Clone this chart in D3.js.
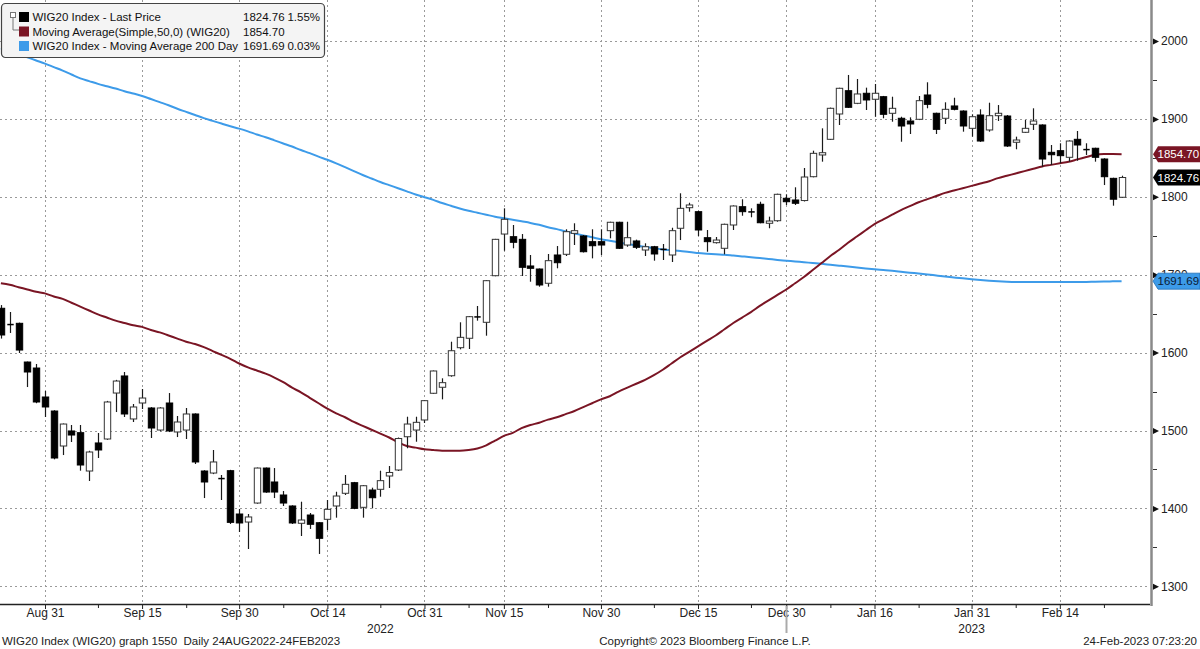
<!DOCTYPE html>
<html><head><meta charset="utf-8">
<script src="https://cdn.jsdelivr.net/npm/d3@7"></script>
<style>
body{margin:0;background:#fff;}
svg{display:block;font-family:"Liberation Sans",Arial,sans-serif;}
</style>
</head><body>
<svg id="c" width="1200" height="649"></svg>
<script>
// ---------- DATA ----------
const dates = [
"2022-08-24","2022-08-25","2022-08-26","2022-08-29","2022-08-30","2022-08-31",
"2022-09-01","2022-09-02","2022-09-05","2022-09-06","2022-09-07","2022-09-08","2022-09-09","2022-09-12","2022-09-13","2022-09-14","2022-09-15","2022-09-16","2022-09-19","2022-09-20","2022-09-21","2022-09-22","2022-09-23","2022-09-26","2022-09-27","2022-09-28","2022-09-29","2022-09-30",
"2022-10-03","2022-10-04","2022-10-05","2022-10-06","2022-10-07","2022-10-10","2022-10-11","2022-10-12","2022-10-13","2022-10-14","2022-10-17","2022-10-18","2022-10-19","2022-10-20","2022-10-21","2022-10-24","2022-10-25","2022-10-26","2022-10-27","2022-10-28","2022-10-31",
"2022-11-02","2022-11-03","2022-11-04","2022-11-07","2022-11-08","2022-11-09","2022-11-10","2022-11-14","2022-11-15","2022-11-16","2022-11-17","2022-11-18","2022-11-21","2022-11-22","2022-11-23","2022-11-24","2022-11-25","2022-11-28","2022-11-29","2022-11-30",
"2022-12-01","2022-12-02","2022-12-05","2022-12-06","2022-12-07","2022-12-08","2022-12-09","2022-12-12","2022-12-13","2022-12-14","2022-12-15","2022-12-16","2022-12-19","2022-12-20","2022-12-21","2022-12-22","2022-12-23","2022-12-27","2022-12-28","2022-12-29","2022-12-30",
"2023-01-02","2023-01-03","2023-01-04","2023-01-05","2023-01-09","2023-01-10","2023-01-11","2023-01-12","2023-01-13","2023-01-16","2023-01-17","2023-01-18","2023-01-19","2023-01-20","2023-01-23","2023-01-24","2023-01-25","2023-01-26","2023-01-27","2023-01-30","2023-01-31",
"2023-02-01","2023-02-02","2023-02-03","2023-02-06","2023-02-07","2023-02-08","2023-02-09","2023-02-10","2023-02-13","2023-02-14","2023-02-15","2023-02-16","2023-02-17","2023-02-20","2023-02-21","2023-02-22","2023-02-23"
];
const openP = [1656.9,1635.4,1637.6,1587.9,1580.2,1543,1525,1480.1,1499.4,1497.2,1448,1484,1489.1,1548.1,1570,1514.8,1535.3,1528.9,1500.6,1535.3,1498.1,1500.6,1521.2,1448,1445.4,1437.7,1448.4,1392.8,1382.5,1406.9,1451.8,1433.9,1417.2,1403.1,1380.9,1391.5,1381.6,1386,1403.1,1419.4,1433,1401.4,1423.6,1424.5,1441.6,1449.3,1492,1500.6,1513.5,1547.8,1555.5,1570.3,1606.3,1618.4,1645.3,1638.9,1698.7,1752.2,1748.8,1745.4,1711.2,1707.3,1689,1725.3,1726.2,1753.1,1749.7,1742.4,1742.4,1756.5,1767.3,1738.1,1743.3,1731.7,1735.9,1732,1725.3,1759.6,1786,1780.9,1747.5,1741.1,1733.9,1763.8,1787.3,1780.1,1790.4,1766,1769.3,1798.1,1795.9,1795.2,1825.8,1853.7,1873.8,1906.3,1936.2,1920,1932.9,1925.2,1928.5,1907.2,1900.8,1897.3,1899.5,1930.7,1907.2,1900.8,1916.6,1910.1,1887.9,1905,1885.8,1904.1,1903.7,1870,1882.8,1893.1,1892.2,1857.1,1859.2,1850.7,1873.8,1860.1,1862.3,1848.5,1823.7,1799.4];
const highP = [1661,1652.1,1638.5,1588.5,1585.4,1550.7,1526,1509,1507.1,1507.1,1474,1496.8,1538,1565,1575.1,1534,1553.3,1530,1530,1548.1,1518.6,1528.9,1522,1449,1475,1442.9,1449.5,1399.2,1392.8,1452.5,1452.5,1451.8,1422.3,1404,1408.6,1394.1,1382.5,1410.8,1421.4,1442.9,1434,1430,1426.6,1448.4,1454.4,1491,1517.7,1517.7,1539,1577,1567,1614,1638.9,1647,1659.8,1693,1746,1785.2,1763.8,1752.2,1725.3,1708,1726.6,1736.8,1758.3,1766,1751,1758.3,1758.3,1768,1768,1768,1745,1740.3,1737,1739.4,1760.3,1804.5,1792.4,1782,1757.4,1748.4,1765.5,1789,1796.8,1785.2,1793.7,1774.5,1804,1803.2,1812.2,1837,1859.2,1887.9,1914.5,1940,1956.4,1951.2,1940.1,1944.8,1929.5,1928.5,1902.8,1902,1929.4,1947,1908,1921.3,1927.2,1911,1905.9,1912.3,1920.8,1917.8,1905,1877.2,1898.6,1913.6,1893,1866.5,1868.7,1872.5,1884.5,1868.7,1863,1849.5,1824.5,1827.1];
const lowP = [1618,1625.2,1599.5,1555.8,1535,1517.3,1463,1468.5,1485.2,1448.4,1435.2,1464.7,1488,1523.7,1517.3,1510.9,1527.6,1490.4,1499,1498,1491.6,1489.1,1457,1413.3,1444,1410.8,1380,1369.7,1347.9,1406,1420,1413.3,1403.1,1380,1364.6,1373.6,1341.5,1372.3,1388.1,1417.2,1399,1388.1,1400.1,1415,1426.2,1448,1477.2,1485.6,1509.6,1547,1540,1569,1604.2,1604.6,1641,1621.7,1698,1730.8,1733.9,1698.3,1691,1684.6,1684.6,1708.2,1724,1738.1,1728.5,1721,1725.3,1746.7,1733,1735.9,1733,1724,1718,1718.9,1716.3,1744.5,1780.9,1749.7,1729.5,1740,1726.2,1757.4,1775.7,1773.7,1766,1759.6,1768,1789.5,1789.5,1794,1825,1845.1,1873,1892.2,1914,1919,1911.4,1902.8,1900.8,1896.4,1870.7,1880.6,1898.5,1913.6,1880.6,1893.5,1911,1883.6,1877.2,1870.5,1883.6,1897.3,1864,1861,1882,1885.8,1838.6,1840.8,1843,1845.1,1846.3,1853.7,1845.1,1815.1,1788.6,1798.5];
const closeP = [1622.6,1636,1603.3,1575.1,1536.6,1530.2,1464.7,1508.3,1494.2,1455.7,1472.4,1475,1536.6,1563.5,1521.2,1530.2,1541.7,1503.2,1528.9,1499.4,1510.9,1521.2,1459.6,1433.9,1459.6,1438.3,1382.1,1381.3,1389,1451.8,1421,1421,1406.9,1381.3,1385.1,1379.6,1361.6,1398.8,1415.9,1430.9,1400.1,1429.1,1413.7,1435.6,1446.1,1489.7,1508.3,1510.5,1538.3,1576.4,1561.4,1602.4,1619.6,1646.1,1645.8,1692.3,1745.4,1771.1,1741.6,1709.5,1708.2,1686.8,1718,1715.4,1755.2,1756.5,1729.5,1737.2,1738.1,1767.3,1733.9,1747.5,1735.2,1735.9,1726.6,1732.5,1756.5,1785.2,1789.5,1757.4,1742.4,1744.5,1764.7,1788.2,1780.9,1780.6,1766.7,1768.9,1803.2,1793.7,1791.7,1825.4,1855.8,1856.6,1913.6,1939.3,1914.9,1932,1924.3,1932.9,1905.9,1913.6,1890.9,1893.5,1923.4,1918.7,1886.6,1912.3,1912.3,1890.9,1902.8,1871.6,1904.1,1907.2,1865.2,1872.9,1887.9,1897.3,1848.5,1854,1852.8,1871.6,1866.5,1860.6,1850.7,1825.8,1796.9,1824.76];
const ma50 = [1689,1687,1684,1681,1678,1676,1672,1669,1664,1659,1654,1649,1645,1641,1638,1635,1633,1629,1626,1622,1618,1614,1611,1607,1602,1597,1592,1586,1581,1577,1573,1568,1562,1555,1549,1542,1535,1528,1522,1517,1511,1506,1501,1496,1491,1485,1480,1478,1476,1475,1474,1474,1474,1475,1477,1481,1487,1493,1497,1503,1507,1510,1514,1517,1521,1525,1530,1535,1540,1544,1550,1555,1560,1565,1571,1578,1586,1594,1601,1608,1615,1622,1630,1638,1645,1652,1660,1667,1674,1681,1689,1697,1706,1715,1724,1732,1741,1749,1757,1765,1771,1777,1783,1788,1793,1797,1801,1805,1808,1811,1814,1817,1820,1824,1827,1830,1833,1836,1839,1841,1843,1845,1848,1851,1854,1855,1855,1854.70];
const ma200 = [1990.5,1987,1983,1979,1975,1971,1966.5,1962,1957,1952,1948.5,1945,1942,1939,1935.5,1932.5,1929.5,1925.5,1921.5,1917.5,1913,1909,1905,1901,1897.5,1894,1890.5,1887.5,1884,1880,1876.5,1872.5,1868.5,1864.5,1860,1856,1851.5,1847.5,1843,1838,1833,1828,1823.5,1819,1815,1811,1807,1803,1799.5,1796,1792,1788.5,1785,1782,1779.5,1777,1774.5,1772.5,1770.5,1768.5,1766.5,1764,1761,1758.5,1755.5,1753,1750.5,1748,1745.5,1743.5,1741.5,1739.5,1737.5,1735.5,1734,1732.5,1731.5,1730.5,1729,1728,1727,1726.2,1725.5,1724.5,1723.5,1722.5,1721.3,1720.2,1719,1718,1717,1716,1715,1714,1712.8,1711.6,1710.4,1709.3,1708.1,1707,1706,1705,1703.8,1702.6,1701.5,1700.3,1699,1697.7,1696.5,1695.3,1694.2,1693.2,1692.3,1691.6,1691,1690.6,1690.5,1690.5,1690.5,1690.5,1690.5,1690.5,1690.5,1690.7,1690.9,1691.2,1691.5,1691.69];

const xLabelDates = ["2022-08-31","2022-09-15","2022-09-30","2022-10-14","2022-10-31","2022-11-15","2022-11-30","2022-12-15","2022-12-30","2023-01-16","2023-01-31","2023-02-14"];
const xLabels = ["Aug 31","Sep 15","Sep 30","Oct 14","Oct 31","Nov 15","Nov 30","Dec 15","Dec 30","Jan 16","Jan 31","Feb 14"];
const xMinorDates = ["2022-09-08","2022-09-22","2022-10-07","2022-10-24","2022-11-08","2022-11-22","2022-12-08","2022-12-23","2023-01-09","2023-01-23","2023-02-07","2023-02-21"];
const yearLabels = ["2022","2023"];
const yearLabelDates = ["2022-10-24","2023-01-31"];
const yearSplitDate = "2022-12-30";
const yTicks = [1300,1400,1500,1600,1700,1800,1900,2000];
const yMinor = [1350,1450,1550,1650,1750,1850,1950];

const legendNames = ["WIG20 Index - Last Price","Moving Average(Simple,50,0) (WIG20)","WIG20 Index - Moving Average 200 Day"];
const legendValues = ["1824.76","1854.70","1691.69"];
const legendChanges = ["1.55%","","0.03%"];
const seriesColors = ["#000000","#7a1524","#3d9be9"];

// ---------- CHART ----------
const svg = d3.select("#c");
const W = 1200, H = 649;
const plotRight = 1150, plotBottom = 604;
const idx = d => dates.indexOf(d);
const x = d3.scaleLinear().domain([-0.1, 130.22]).range([0, plotRight]);
const y = d3.scaleLinear().domain([1300, 2000]).range([586.3, 41]);

svg.append("rect").attr("width",W).attr("height",H).attr("fill","#fff");

const defs = svg.append("defs");
defs.append("clipPath").attr("id","plotclip").append("rect")
  .attr("x",0).attr("y",0).attr("width",plotRight).attr("height",plotBottom);

// grid
const grid = svg.append("g").attr("stroke","#9a9a9a").attr("stroke-width",1).attr("stroke-dasharray","2,3");
grid.selectAll(".hg").data(yTicks).join("line")
  .attr("x1",0).attr("x2",plotRight)
  .attr("y1",d=>Math.round(y(d))+0.5).attr("y2",d=>Math.round(y(d))+0.5);
grid.selectAll(".vg").data(xLabelDates).join("line")
  .attr("x1",d=>Math.round(x(idx(d)))+0.5).attr("x2",d=>Math.round(x(idx(d)))+0.5)
  .attr("y1",0).attr("y2",plotBottom);

const plot = svg.append("g").attr("clip-path","url(#plotclip)");

// moving average lines
const line = arr => d3.line().x((d,i)=>x(i)).y(d=>y(d)).curve(d3.curveMonotoneX)(arr);
plot.append("path").attr("d",line(ma200)).attr("fill","none").attr("stroke",seriesColors[2]).attr("stroke-width",2);
plot.append("path").attr("d",line(ma50)).attr("fill","none").attr("stroke",seriesColors[1]).attr("stroke-width",2);

// candles
const bw = 6.4;
const candles = plot.append("g");
dates.forEach((d,i)=>{
  const o=openP[i], h=highP[i], l=lowP[i], c=closeP[i];
  const cx = Math.round(x(i))+0.5;
  candles.append("line").attr("x1",cx).attr("x2",cx).attr("y1",y(h)).attr("y2",y(l))
    .attr("stroke","#1a1a1a").attr("stroke-width",1.2);
  const top = y(Math.max(o,c)), bot = y(Math.min(o,c));
  const up = c >= o;
  const hgt = Math.max(1, bot-top);
  if (hgt < 1.6) {
    candles.append("line").attr("x1",cx-bw/2).attr("x2",cx+bw/2).attr("y1",top).attr("y2",top)
      .attr("stroke","#000").attr("stroke-width",1.5);
  } else {
    candles.append("rect").attr("x",cx-bw/2).attr("y",top).attr("width",bw).attr("height",hgt)
      .attr("fill", up ? "#fff" : "#000").attr("stroke", up ? "#333" : "#000").attr("stroke-width",1);
  }
});

// bottom axis
svg.append("line").attr("x1",0).attr("x2",plotRight).attr("y1",plotBottom+0.5).attr("y2",plotBottom+0.5)
  .attr("stroke","#222").attr("stroke-width",1.5);
const xAxis = d3.axisBottom(x).tickValues(xLabelDates.map(idx)).tickFormat((d,i)=>xLabels[i]).tickSize(5).tickPadding(0);
const xg = svg.append("g").attr("transform",`translate(0,${plotBottom})`).call(xAxis);
xg.select(".domain").remove();
xg.selectAll("text").attr("y",4).attr("font-size",12).attr("fill","#222").attr("font-family","Liberation Sans, Arial, sans-serif");
xg.selectAll(".tick line").attr("stroke","#222");
const xm = d3.axisBottom(x).tickValues(xMinorDates.map(idx)).tickFormat("").tickSize(4);
const xmg = svg.append("g").attr("transform",`translate(0,${plotBottom})`).call(xm);
xmg.select(".domain").remove();
xmg.selectAll(".tick line").attr("stroke","#222");

// year split and labels
const ys = Math.round(x(idx(yearSplitDate)))+0.5;
svg.append("line").attr("x1",ys).attr("x2",ys).attr("y1",plotBottom+2).attr("y2",633)
  .attr("stroke","#aaa").attr("stroke-width",2);
svg.selectAll(".yl").data(yearLabels).join("text")
  .attr("x",(d,i)=>x(idx(yearLabelDates[i]))).attr("y",633).attr("text-anchor","middle")
  .attr("font-size",12).attr("fill","#222").text(d=>d);

// right axis
svg.append("line").attr("x1",plotRight+1.5).attr("x2",plotRight+1.5).attr("y1",0).attr("y2",plotBottom+2)
  .attr("stroke","#8a8a8a").attr("stroke-width",2.5);
const yAxis = d3.axisRight(y).tickValues(yTicks).tickSize(0).tickPadding(0).tickFormat(d3.format("d"));
const yg = svg.append("g").attr("transform",`translate(${plotRight+3},0)`).call(yAxis);
yg.select(".domain").remove();
yg.selectAll("text").attr("x",8).attr("font-size",12).attr("fill","#222").attr("font-family","Liberation Sans, Arial, sans-serif");
yg.selectAll(".tick").append("path").attr("d","M0,-3L6,0L0,3Z").attr("fill","#111");
svg.selectAll(".ymin").data(yMinor).join("line")
  .attr("x1",plotRight+3).attr("x2",plotRight+7).attr("y1",d=>Math.round(y(d))+0.5).attr("y2",d=>Math.round(y(d))+0.5)
  .attr("stroke","#333");

// value tags
const tagVals = [ma50[ma50.length-1], closeP[closeP.length-1], ma200[ma200.length-1]];
const tagFill = [seriesColors[1], "#000", seriesColors[2]];
const tagText = ["#fff","#fff","#0a1a33"];
const tagLbl = [legendValues[1], legendValues[0], legendValues[2]];
tagVals.forEach((v,i)=>{
  const ty = y(v);
  const g = svg.append("g");
  g.append("path").attr("d",`M${plotRight+3},${ty}L${plotRight+8},${ty-8}L1200,${ty-8}L1200,${ty+8}L${plotRight+8},${ty+8}Z`)
    .attr("fill",tagFill[i]).attr("stroke", i===2?"#1f6fb5":"none").attr("stroke-width",0.8);
  g.append("text").attr("x",plotRight+7.5).attr("y",ty+4.3).attr("font-size",11.5)
    .attr("fill",tagText[i]).text(tagLbl[i]);
});

// legend
const lg = svg.append("g");
lg.append("rect").attr("x",1.5).attr("y",3.5).attr("width",323).attr("height",54).attr("rx",4)
  .attr("fill","#f4f4f4").attr("stroke","#444").attr("stroke-width",1.2);
lg.append("rect").attr("x",10.5).attr("y",12.5).attr("width",5).attr("height",5).attr("fill","#fff").attr("stroke","#777");
lg.append("path").attr("d","M13,18V30H19").attr("fill","none").attr("stroke","#777");
const rowsY = [17,31.5,46];
legendNames.forEach((n,i)=>{
  lg.append("rect").attr("x",19).attr("y",rowsY[i]-5).attr("width",10).attr("height",10).attr("fill",seriesColors[i]);
  lg.append("text").attr("x",32.5).attr("y",rowsY[i]+4).attr("font-size",11.5).attr("fill","#111").text(n);
  lg.append("text").attr("x",243).attr("y",rowsY[i]+4).attr("font-size",11.5).attr("fill","#111").text(legendValues[i]);
  if (legendChanges[i]) lg.append("text").attr("x",320).attr("y",rowsY[i]+4).attr("text-anchor","end").attr("font-size",11.5).attr("fill","#111").text(legendChanges[i]);
});

// footer
const ft = svg.append("g").attr("font-size",11.5).attr("fill","#222");
ft.append("text").attr("x",2).attr("y",645).style("white-space","pre").text("WIG20 Index (WIG20) graph 1550  Daily 24AUG2022-24FEB2023");
ft.append("text").attr("x",705).attr("y",645).attr("text-anchor","middle").text("Copyright\u00A9 2023 Bloomberg Finance L.P.");
ft.append("text").attr("x",1197).attr("y",645).attr("text-anchor","end").text("24-Feb-2023 07:23:20");
</script>
</body></html>
